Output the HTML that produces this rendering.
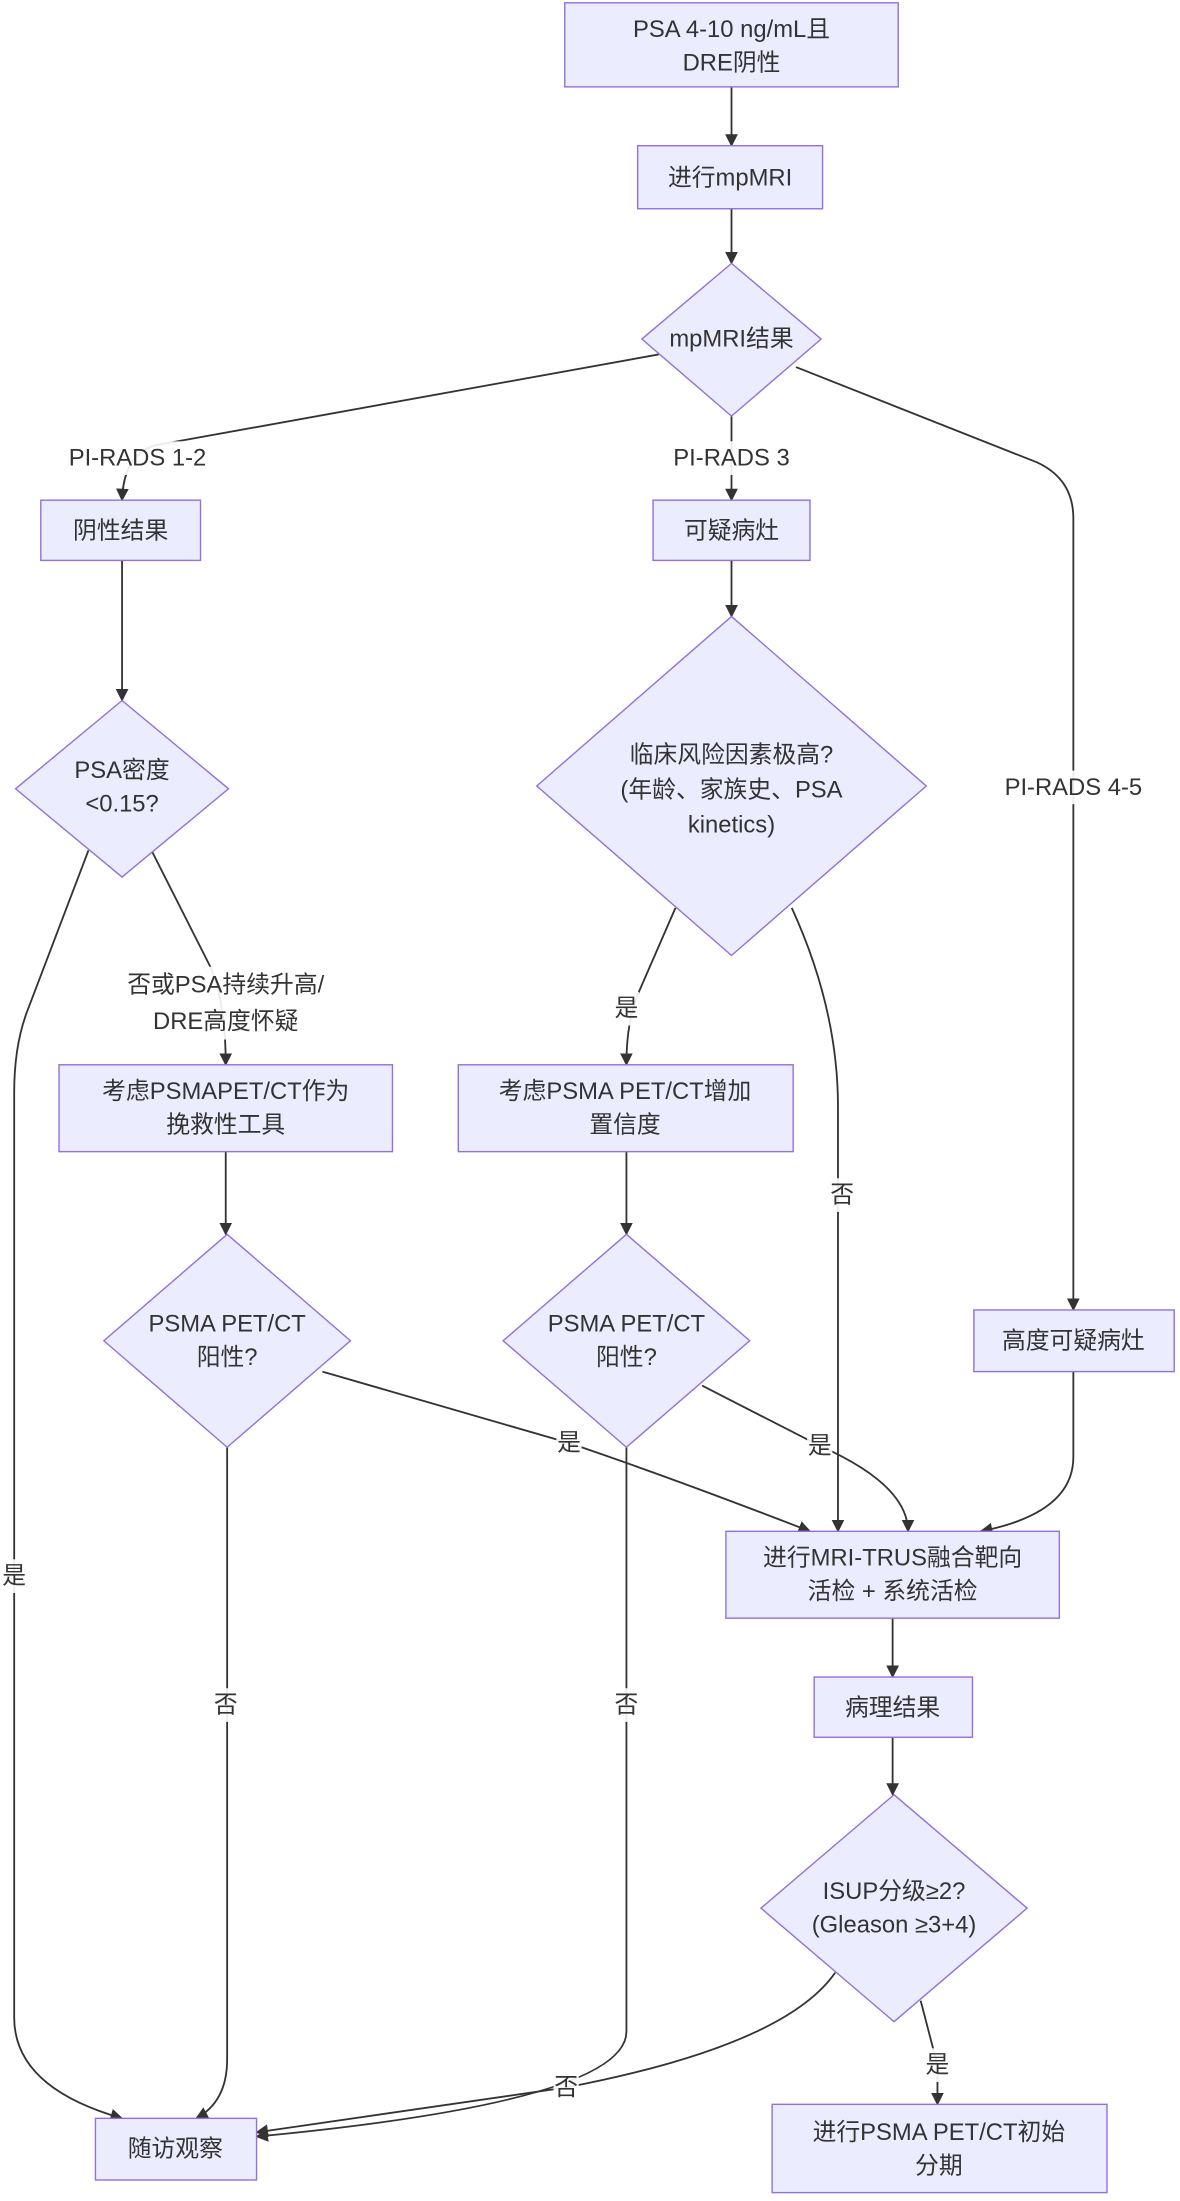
<!DOCTYPE html>
<html><head><meta charset="utf-8"><style>
html,body{margin:0;padding:0;background:#fff;}
svg{display:block;}
text{font-family:"Liberation Sans","Noto Sans CJK SC",sans-serif;font-size:17px;fill:#333;text-anchor:middle;dominant-baseline:central;}
.n{fill:#ECECFF;stroke:#9370DB;stroke-width:1;}
.e{fill:none;stroke:#333;stroke-width:1.3;marker-end:url(#a);}
.lb{fill:#fff;opacity:0.9;}
</style></head><body>
<svg width="1180" height="2201" viewBox="0 0 842 1571" xmlns="http://www.w3.org/2000/svg">
<defs><marker id="a" viewBox="0 0 10 10" refX="9" refY="5" markerWidth="7" markerHeight="7" orient="auto-start-reverse"><path d="M0,0L10,5L0,10z" fill="#333"/></marker></defs>

<!-- edges -->
<path class="e" d="M522,62V104"/>
<path class="e" d="M522,149V188"/>
<path class="e" d="M522,297V357"/>
<path class="e" d="M470,253L110,318Q88,325 87,357"/>
<path class="e" d="M568,262L740,330Q766,342 766,370V935"/>
<path class="e" d="M87,400V500"/>
<path class="e" d="M522,400V440"/>
<path class="e" d="M63,607L20,720Q10,745 10,780V1440Q10,1490 87,1512"/>
<path class="e" d="M108,607L150,690Q161,715 161,760"/>
<path class="e" d="M482,648L455,710Q447,730 447,760"/>
<path class="e" d="M565,648Q598,720 598,790V1093"/>
<path class="e" d="M161,822V881"/>
<path class="e" d="M447,822V881"/>
<path class="e" d="M230,979L406,1030Q480,1055 578,1093"/>
<path class="e" d="M501,989L585,1032Q648,1060 648,1093"/>
<path class="e" d="M766,979V1040Q766,1080 700,1093"/>
<path class="e" d="M162,1033V1470Q162,1500 140,1512"/>
<path class="e" d="M447,1033V1450Q447,1500 183,1525"/>
<path class="e" d="M637,1155V1197"/>
<path class="e" d="M637,1240V1281"/>
<path class="e" d="M596,1408Q560,1460 404,1490L183,1522"/>
<path class="e" d="M657,1428L669,1474V1502"/>

<!-- edge labels -->
<rect class="lb" x="38" y="315" width="122" height="24"/><text x="98" y="327">PI-RADS 1-2</text>
<rect class="lb" x="470" y="315" width="104" height="24"/><text x="522" y="327">PI-RADS 3</text>
<rect class="lb" x="704" y="550" width="124" height="24"/><text x="766" y="562">PI-RADS 4-5</text>
<rect class="lb" x="72" y="690" width="178" height="52"/><text x="161" y="703">否或PSA持续升高/</text><text x="161" y="729">DRE高度怀疑</text>
<rect class="lb" x="438" y="708" width="18" height="24"/><text x="447" y="720">是</text>
<rect class="lb" x="592" y="841" width="18" height="24"/><text x="601" y="853">否</text>
<rect class="lb" x="397" y="1018" width="18" height="24"/><text x="406" y="1030">是</text>
<rect class="lb" x="576" y="1020" width="18" height="24"/><text x="585" y="1032">是</text>
<rect class="lb" x="1" y="1113" width="18" height="24"/><text x="10" y="1125">是</text>
<rect class="lb" x="152" y="1205" width="18" height="24"/><text x="161" y="1217">否</text>
<rect class="lb" x="438" y="1205" width="18" height="24"/><text x="447" y="1217">否</text>
<rect class="lb" x="395" y="1478" width="18" height="24"/><text x="404" y="1490">否</text>
<rect class="lb" x="660" y="1462" width="18" height="24"/><text x="669" y="1474">是</text>

<!-- nodes -->
<rect class="n" x="403" y="2" width="238" height="60"/><text x="522" y="21">PSA 4-10 ng/mL且</text><text x="522" y="45">DRE阴性</text>
<rect class="n" x="455" y="104" width="132" height="45"/><text x="521" y="127">进行mpMRI</text>
<polygon class="n" points="522,188 586,242 522,297 458,242"/><text x="522" y="242">mpMRI结果</text>
<rect class="n" x="29" y="357" width="114" height="43"/><text x="86" y="379">阴性结果</text>
<rect class="n" x="466" y="357" width="112" height="43"/><text x="522" y="379">可疑病灶</text>
<polygon class="n" points="87,500 163,563 87,626 11,563"/><text x="87" y="550">PSA密度</text><text x="87" y="574">&lt;0.15?</text>
<polygon class="n" points="522,440 661,561 522,682 383,561"/><text x="522" y="539">临床风险因素极高?</text><text x="522" y="564">(年龄、家族史、PSA</text><text x="522" y="589">kinetics)</text>
<rect class="n" x="42" y="760" width="238" height="62"/><text x="161" y="779">考虑PSMAPET/CT作为</text><text x="161" y="803">挽救性工具</text>
<rect class="n" x="327" y="760" width="239" height="62"/><text x="446" y="779">考虑PSMA PET/CT增加</text><text x="446" y="803">置信度</text>
<polygon class="n" points="162,881 250,957 162,1033 74,957"/><text x="162" y="945">PSMA PET/CT</text><text x="162" y="969">阳性?</text>
<polygon class="n" points="447,881 535,957 447,1033 359,957"/><text x="447" y="945">PSMA PET/CT</text><text x="447" y="969">阳性?</text>
<rect class="n" x="695" y="935" width="143" height="44"/><text x="766" y="957">高度可疑病灶</text>
<rect class="n" x="518" y="1093" width="238" height="62"/><text x="637" y="1112">进行MRI-TRUS融合靶向</text><text x="637" y="1136">活检 + 系统活检</text>
<rect class="n" x="581" y="1197" width="113" height="43"/><text x="637" y="1219">病理结果</text>
<polygon class="n" points="638,1281 733,1362 638,1443 543,1362"/><text x="638" y="1350">ISUP分级≥2?</text><text x="638" y="1374">(Gleason ≥3+4)</text>
<rect class="n" x="68" y="1512" width="115" height="44"/><text x="125" y="1534">随访观察</text>
<rect class="n" x="551" y="1502" width="239" height="63"/><text x="670" y="1522">进行PSMA PET/CT初始</text><text x="670" y="1546">分期</text>
</svg>
</body></html>
